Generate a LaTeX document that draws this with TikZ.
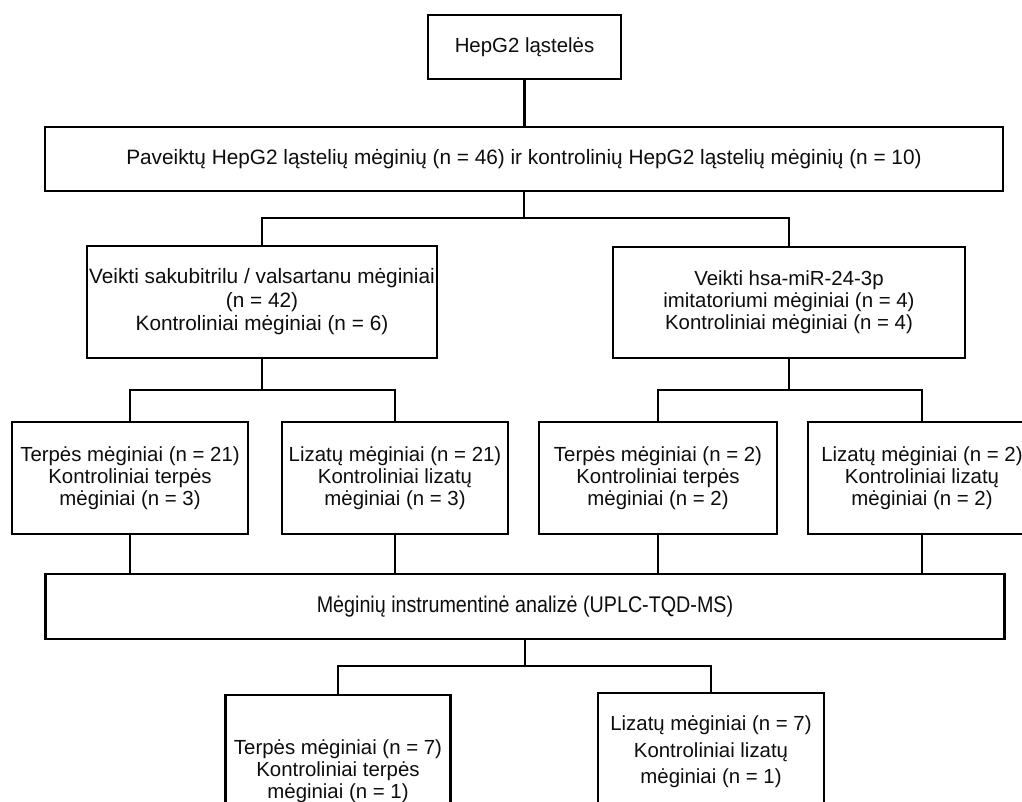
\documentclass[tikz,border=0pt]{standalone}
\usepackage{graphicx}
\usepackage{fontspec}
\setmainfont{Liberation Sans}
\begin{document}
\begin{tikzpicture}[x=0.75pt,y=-0.75pt,
  box/.style={draw=black, line width=1.6pt, fill=white, align=center,
    inner sep=0pt, outer sep=0pt, text=black!95,
    font=\fontsize{15.3}{16.5}\selectfont},
  wh/.style 2 args={minimum width=#1*0.75pt, minimum height=#2*0.75pt},
  conn/.style={draw=black, line width=1.6pt}]
\useasboundingbox (0,0) rectangle (1022,801);
\clip (0,0) rectangle (1022,801);

\node[box, wh={193}{64}] (A) at (524.5,47) {HepG2 ląstelės};
\node[box, wh={958}{64}, font=\fontsize{15.6}{17}\selectfont] (B) at (524,159)
  {Paveiktų HepG2 ląstelių mėginių (n = 46) ir kontrolinių HepG2 ląstelių mėginių (n = 10)};
\node[box, wh={350}{112}, font=\fontsize{15.6}{17.6}\selectfont] (C) at (262,302)
  {Veikti sakubitrilu / valsartanu mėginiai\\(n = 42)\\Kontroliniai mėginiai (n = 6)};
\node[box, wh={352}{111}] (D) at (789,302.5)
  {Veikti hsa-miR-24-3p\\imitatoriumi mėginiai (n = 4)\\Kontroliniai mėginiai (n = 4)};

\node[box, wh={236}{112}] (E1) at (130,478)
  {Terpės mėginiai (n = 21)\\Kontroliniai terpės\\mėginiai (n = 3)};
\node[box, wh={226}{112}] (E2) at (395,478)
  {Lizatų mėginiai (n = 21)\\Kontroliniai lizatų\\mėginiai (n = 3)};
\node[box, wh={238}{112}] (E3) at (658,478)
  {Terpės mėginiai (n = 2)\\Kontroliniai terpės\\mėginiai (n = 2)};
\node[box, wh={228}{112}] (E4) at (922,478)
  {Lizatų mėginiai (n = 2)\\Kontroliniai lizatų\\mėginiai (n = 2)};

\node[box, wh={959}{65}] (F) at (525,606.5)
  {\scalebox{0.87}[1]{\fontsize{17}{18}\selectfont Mėginių instrumentinė analizė (UPLC-TQD-MS)}};

\node[box, wh={225}{152}] (G1) at (338,771)
  {Terpės mėginiai (n = 7)\\Kontroliniai terpės\\mėginiai (n = 1)};
\node[box, wh={226}{118}, font=\fontsize{15.3}{20}\selectfont] (G2) at (711,752)
  {Lizatų mėginiai (n = 7)\\Kontroliniai lizatų\\mėginiai (n = 1)};

\coordinate (j1) at (524,218);
\coordinate (j2) at (262,390);
\coordinate (j3) at (789,390);
\coordinate (j4) at (525,666);

\draw[conn] (A.south) -- (A.south |- B.north);
\draw[conn] (B.south) -- (j1);
\draw[conn] (C.north) |- (j1) -| (D.north);
\draw[conn] (C.south) -- (j2);
\draw[conn] (E1.north) |- (j2) -| (E2.north);
\draw[conn] (D.south) -- (j3);
\draw[conn] (E3.north) |- (j3) -| (E4.north);
\draw[conn] (E1.south) -- (E1.south |- F.north);
\draw[conn] (E2.south) -- (E2.south |- F.north);
\draw[conn] (E3.south) -- (E3.south |- F.north);
\draw[conn] (E4.south) -- (E4.south |- F.north);
\draw[conn] (F.south) -- (j4);
\draw[conn] (G1.north) |- (j4) -| (G2.north);
\end{tikzpicture}
\end{document}
